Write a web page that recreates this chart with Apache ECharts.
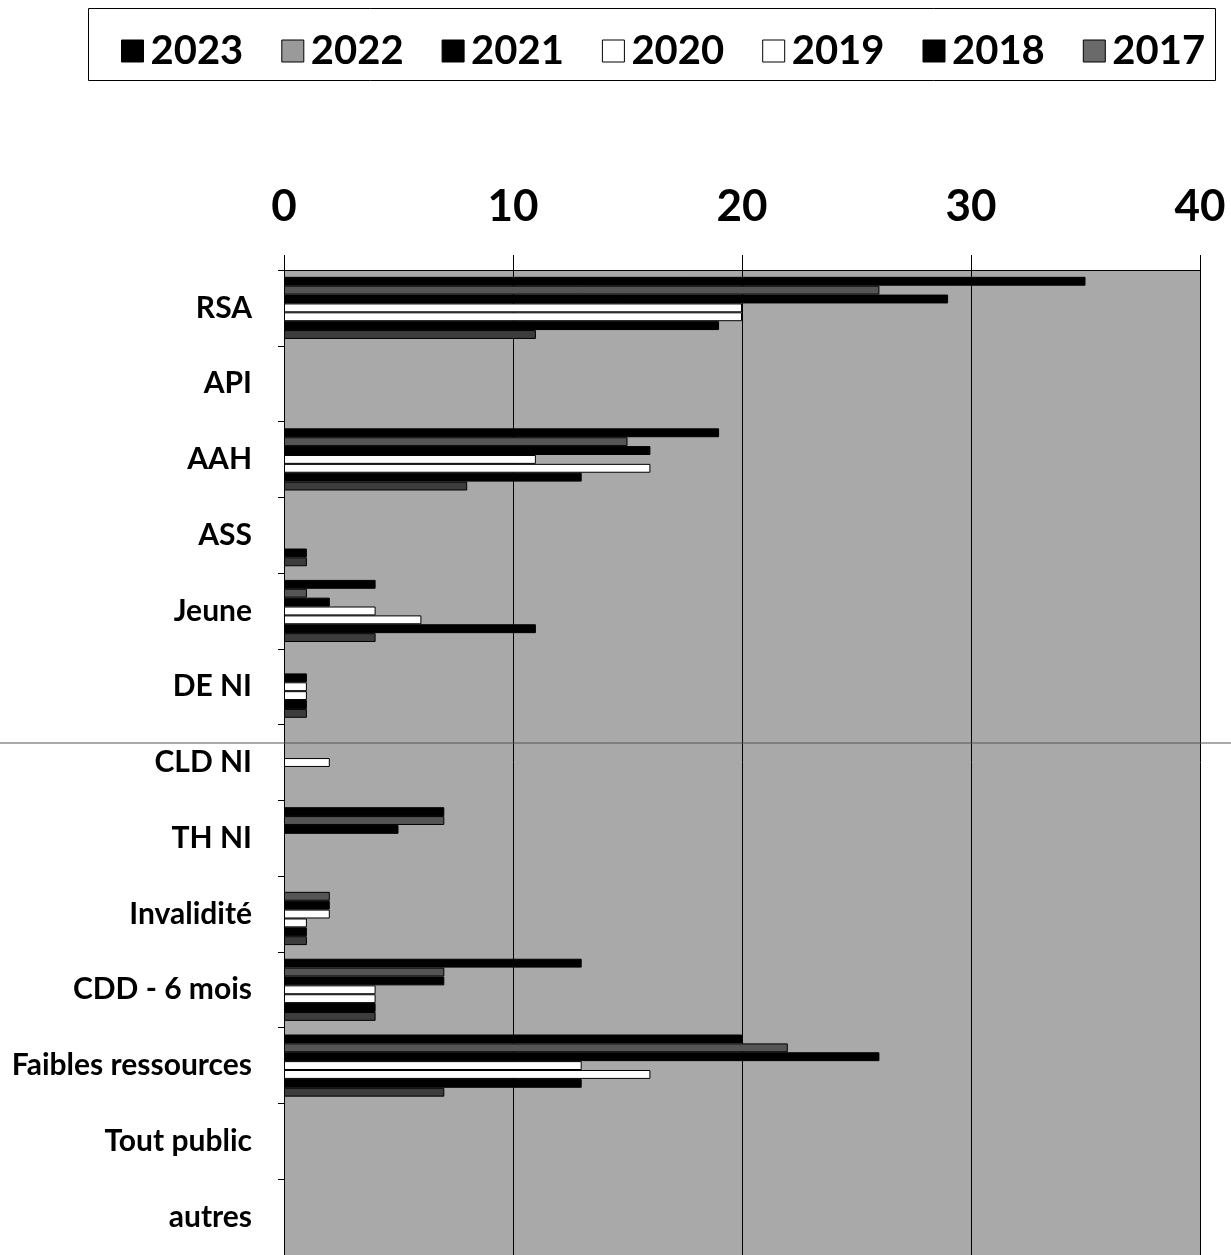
<!DOCTYPE html>
<html>
<head>
<meta charset="utf-8">
<script src="https://cdn.jsdelivr.net/npm/echarts@6/dist/echarts.min.js"></script>
<style>
html,body{margin:0;padding:0;background:#fff;}
#c{width:1231px;height:1255px;}
</style>
</head>
<body>
<div id="c"></div>
<script>
const categories = ['RSA','API','AAH','ASS','Jeune','DE NI','CLD NI','TH NI','Invalidité','CDD - 6 mois','Faibles ressources','Tout public','autres'];
const years = ['2023','2022','2021','2020','2019','2018','2017'];
const v2023 = [35,0,19,0,4,0,0,7,0,13,20,0,0];
const v2022 = [26,0,15,0,1,0,0,7,2,7,22,0,0];
const v2021 = [29,0,16,0,2,1,0,5,2,7,26,0,0];
const v2020 = [20,0,11,0,4,1,2,0,2,4,13,0,0];
const v2019 = [20,0,16,0,6,1,0,0,1,4,16,0,0];
const v2018 = [19,0,13,1,11,1,0,0,1,4,13,0,0];
const v2017 = [11,0,8,1,4,1,0,0,1,4,7,0,0];
const xTicks = [0,10,20,30,40];

const values = [v2023,v2022,v2021,v2020,v2019,v2018,v2017];
const fills = ['#000000','#555555','#000000','#ffffff','#ffffff','#000000','#3c3c3c'];
const legendFills = ['#000000','#9a9a9a','#000000','#ffffff','#ffffff','#000000','#6a6a6a'];
const FONT = 'Lato';

const chart = echarts.init(document.getElementById('c'), null, {renderer:'canvas'});
chart.setOption({
  animation:false,
  backgroundColor:'#ffffff',
  graphic:[
    {type:'rect', shape:{x:88.5,y:8.5,width:1127,height:72}, style:{fill:'none',stroke:'#000',lineWidth:1}, z:10},
    {type:'line', shape:{x1:0,y1:743,x2:1231,y2:743}, style:{stroke:'#555',lineWidth:1}, z:10}
  ],
  legend:{
    data: years.map((y,i)=>({name:y, itemStyle:{color:legendFills[i], borderColor:'#000', borderWidth:1}})),
    left:116, top:26,
    itemWidth:22, itemHeight:22, itemGap:38,
    icon:'rect',
    textStyle:{fontFamily:FONT, fontWeight:'bold', fontSize:40, color:'#000', padding:[0,0,0,2]}
  },
  grid:{left:284, right:31, top:270, bottom:-3, show:true, backgroundColor:'#a9a9a9', borderWidth:0},
  xAxis:{
    type:'value', position:'top', min:0, max:40, interval:10,
    axisLine:{show:true, lineStyle:{color:'#000',width:1}},
    axisTick:{show:true, length:15, lineStyle:{color:'#000',width:1}},
    axisLabel:{fontFamily:FONT, fontWeight:'bold', fontSize:44, color:'#000', margin:41,
      formatter:(v)=> xTicks.includes(v) ? String(v) : ''},
    splitLine:{show:true, lineStyle:{color:'#000', width:1}}
  },
  yAxis:{
    type:'category', data:categories, inverse:true,
    axisLine:{show:true, lineStyle:{color:'#000',width:1}},
    axisTick:{show:true, length:6, lineStyle:{color:'#000'}},
    axisLabel:{fontFamily:FONT, fontWeight:'bold', fontSize:30, color:'#000', margin:32},
    splitLine:{show:false}
  },
  series: years.map((y,i)=>({
    name:y, type:'bar',
    barGap:'0%', barCategoryGap:'18%',
    data: values[i].map(v => v === 0 ? '-' : v),
    itemStyle:{color:fills[i], borderColor:'#000', borderWidth:1}
  }))
});
</script>
</body>
</html>
